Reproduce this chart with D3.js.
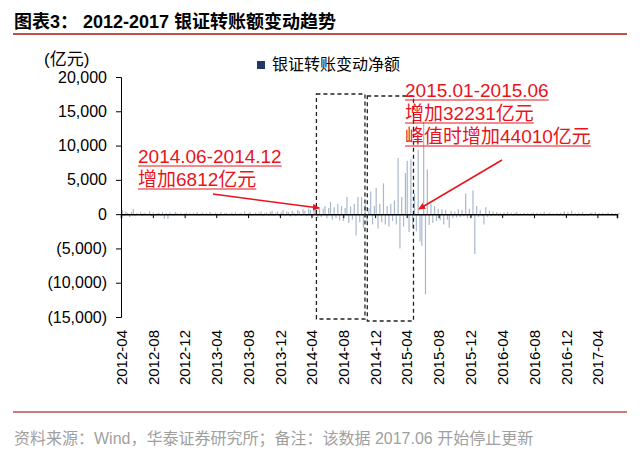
<!DOCTYPE html>
<html><head><meta charset="utf-8">
<script src="https://cdn.jsdelivr.net/npm/d3@7"></script>
<style>body{margin:0;background:#fff}svg{font-family:Arial,"Liberation Sans","Noto Sans CJK SC",sans-serif}</style>
</head><body><svg id="c" width="640" height="455"></svg>
<script>
const startWeek = "2012-04-06";
const netChange = [
600,-300,400,200,-400,300,700,-200,150,-100,
300,-250,200,100,-150,400,-300,250,-200,100,
200,-150,300,-700,150,-700,250,100,-200,300,
150,-100,200,-150,100,250,-200,150,-100,200,
-150,300,-200,100,250,-100,150,-200,300,100,
-150,200,100,-250,300,-100,150,200,-150,100,
250,-200,300,-150,100,200,-100,400,-250,150,
300,-200,100,250,-150,200,400,-300,150,250,
-200,300,500,-250,200,400,-300,250,600,-200,
400,300,-350,500,200,-300,600,400,-250,700,
500,-300,800,600,-400,900,700,-500,1000,-400,
800,1200,-600,900,1800,-800,1000,-600,1500,-900,
1200,-1000,900,2500,-1300,1100,-800,1500,-3100,2500,
-1200,2500,-2000,1400,-1000,900,3300,-1500,1200,3800,
-2100,1500,-1200,4500,-1500,1200,-1800,1500,-1000,2000,
-1500,8200,-5000,2500,-1800,6000,7800,-2600,8000,-2000,
3000,-2500,9400,-4000,-4600,13500,-11700,6500,-1600,1500,
-1300,1200,-1000,800,-900,700,-1500,600,-800,-2000,
500,-600,400,-500,700,-400,600,-300,3000,-600,
800,-500,3500,-5800,1200,-400,600,-300,-1500,1000,
-400,500,-300,400,-200,300,-250,200,-300,250,
-200,300,-150,200,-250,150,300,-200,100,-150,
200,-100,150,-200,100,250,-150,200,-100,150,
-200,300,-150,100,200,-150,100,-100,150,-200,
200,-150,400,-200,300,-100,500,-200,150,-300,
200,-150,300,-200,100,-250,150,200,-100,300,
-200,150,-100,200,-150,100,250,-100,150,-200,
100,-150,200,-100];
const yTicks = [20000,15000,10000,5000,0,-5000,-10000,-15000];
const xTicks = ["2012-04","2012-08","2012-12","2013-04","2013-08","2013-12","2014-04","2014-08","2014-12","2015-04","2015-08","2015-12","2016-04","2016-08","2016-12","2017-04"];
const boxes = [["2014-04-20","2014-10-23"],["2014-11-01","2015-04-27"]];
const title = "图表3：  2012-2017 银证转账额变动趋势";
const seriesName = "银证转账变动净额";
const unit = "(亿元)";
const note1 = ["2014.06-2014.12","增加6812亿元"];
const note2 = ["2015.01-2015.06","增加32231亿元","峰值时增加44010亿元"];
const source = "资料来源：Wind，华泰证券研究所；备注：该数据 2017.06 开始停止更新";

const svg = d3.select("#c");
const pt = d3.timeParse("%Y-%m-%d");
const pm = d3.timeParse("%Y-%m");
const t0 = pt(startWeek);
const data = netChange.map((v,i)=>({d:d3.timeDay.offset(t0,7*i),v}));
const x = d3.scaleTime().domain([pt("2012-04-01"),pt("2017-06-15")]).range([121,617]);
const y = d3.scaleLinear().domain([-15000,20000]).range([317,77]);

svg.append("text").attr("x",14).attr("y",28).attr("font-size",18).attr("font-weight","bold").text(title);
svg.append("line").attr("x1",13).attr("x2",627).attr("y1",34).attr("y2",34).attr("stroke","#c0504d").attr("stroke-width",2);
svg.append("line").attr("x1",13).attr("x2",627).attr("y1",412).attr("y2",412).attr("stroke","#c0504d").attr("stroke-width",1.5);
svg.append("text").attr("x",14).attr("y",444).attr("font-size",16).attr("fill","#a0a0a0").text(source);
svg.append("text").attr("x",44).attr("y",65).attr("font-size",17).text(unit);
svg.append("rect").attr("x",257).attr("y",61).attr("width",8).attr("height",8).attr("fill","#1f3864");
svg.append("text").attr("x",272).attr("y",70).attr("font-size",16).text(seriesName);

svg.selectAll(".bar").data(data).join("line")
  .attr("x1",d=>x(d.d)).attr("x2",d=>x(d.d))
  .attr("y1",y(0)).attr("y2",d=>y(d.v))
  .attr("stroke","#a9b7cc").attr("stroke-width",1.2);

const ya = svg.append("g").attr("transform","translate(121,0)")
  .call(d3.axisLeft(y).tickValues(yTicks).tickSize(5).tickFormat(v=>v<0?"("+d3.format(",")(-v)+")":d3.format(",")(v)));
ya.selectAll("text").attr("font-size",16).attr("fill","#000").attr("x",-14);
ya.select(".domain").attr("stroke","#000");

const xa = svg.append("g").attr("transform",`translate(0,${y(0)})`)
  .call(d3.axisBottom(x).tickValues(xTicks.map(pm)).tickSize(4).tickFormat(d3.timeFormat("%Y-%m")));
xa.select(".domain").attr("stroke","#000").attr("stroke-width",1.5);
xa.selectAll("text").attr("font-size",15).attr("fill","#000")
  .attr("x",0).attr("y",0).attr("dy","0.35em").attr("text-anchor","end")
  .attr("transform",`translate(0,${330-y(0)}) rotate(-90)`);

boxes.forEach((b,i)=>{
  const x1=x(pt(b[0])),x2=x(pt(b[1]));
  svg.append("rect").attr("x",x1).attr("y",i?96:94).attr("width",x2-x1).attr("height",225)
   .attr("fill","none").attr("stroke","#222").attr("stroke-width",1.3).attr("stroke-dasharray","4,3");
});

const red="#e8141c";
svg.append("defs").append("marker").attr("id","ar").attr("viewBox","0 0 10 10").attr("refX",9).attr("refY",5)
 .attr("markerWidth",4.5).attr("markerHeight",4.5).attr("orient","auto").append("path").attr("d","M0,0L10,5L0,10z").attr("fill",red);
function note(lines,x0,y0){
  lines.forEach((t,i)=>{
    const tx=svg.append("text").attr("x",x0).attr("y",y0+i*23).attr("font-size",19).attr("fill",red).text(t);
    const w=tx.node().getComputedTextLength();
    svg.append("line").attr("x1",x0).attr("x2",x0+w).attr("y1",y0+i*23+3).attr("y2",y0+i*23+3).attr("stroke",red);
  });
}
note(note1,138,163);
note(note2,405,97);
svg.append("line").attr("x1",213).attr("y1",194).attr("x2",319).attr("y2",208).attr("stroke",red).attr("stroke-width",1.5).attr("marker-end","url(#ar)");
svg.append("line").attr("x1",502).attr("y1",160).attr("x2",419).attr("y2",209).attr("stroke",red).attr("stroke-width",1.5).attr("marker-end","url(#ar)");
</script></body></html>
